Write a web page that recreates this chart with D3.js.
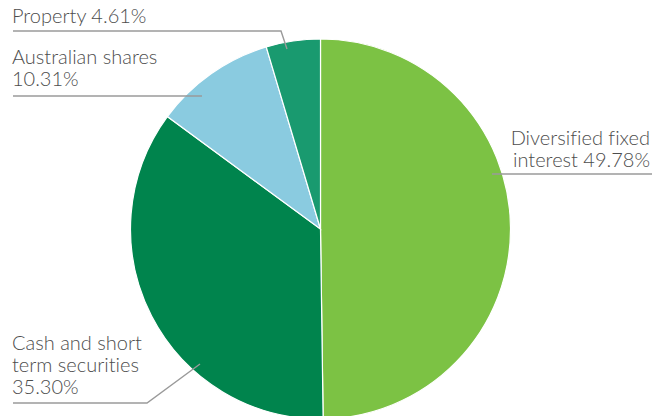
<!DOCTYPE html>
<html><head><meta charset="utf-8">
<script src="https://cdn.jsdelivr.net/npm/d3@7"></script>
<style>
html,body{margin:0;padding:0;background:#fff;}
text{font-family:"Lato","Open Sans",sans-serif;font-weight:300;fill:#4d4d4d;font-variant-ligatures:none;font-feature-settings:"liga" 0,"dlig" 0;}
</style></head>
<body><svg id="c" width="665" height="416"></svg>
<script>
const categories = ["Diversified fixed interest", "Cash and short term securities", "Australian shares", "Property"];
const values = [49.78, 35.30, 10.31, 4.61];
const colors = ["#7cc244", "#00844d", "#8acbe0", "#199a6f"];
const labelLines = [
  ["Diversified fixed", "interest 49.78%"],
  ["Cash and short", "term securities", "35.30%"],
  ["Australian shares", "10.31%"],
  ["Property 4.61%"]
];

const svg = d3.select("#c");
const cx = 320.5, cy = 229, r = 190;
const g = svg.append("g").attr("transform", `translate(${cx},${cy})`);
const pie = d3.pie().sort(null).value(d => d)(values);
const arc = d3.arc().innerRadius(0).outerRadius(r);
g.selectAll("path").data(pie).join("path")
  .attr("d", arc).attr("fill", (d, i) => colors[i])
  .attr("stroke", "#fff").attr("stroke-width", 1.2);

const leaders = [
  [[492,174],[652,174]],
  [[13,403],[147,403],[200,364]],
  [[13,96],[202,96]],
  [[13,31],[281,31],[287,49]]
];
const line = d3.line();
svg.selectAll("path.leader").data(leaders).join("path")
  .attr("class","leader").attr("d", line).attr("fill","none")
  .attr("stroke","#9a9a9a").attr("stroke-width",1.4);

const labelPos = [
  {x:650, y:145, anchor:"end"},
  {x:12, y:350, anchor:"start"},
  {x:12, y:64, anchor:"start"},
  {x:12, y:23, anchor:"start"}
];
const lh = 22;
labelLines.forEach((lines, i) => {
  const p = labelPos[i];
  const t = svg.append("text").attr("x", p.x).attr("y", p.y)
    .attr("text-anchor", p.anchor).attr("font-size", 20);
  lines.forEach((s, j) => {
    t.append("tspan").attr("x", p.x).attr("dy", j === 0 ? 0 : lh).text(s);
  });
});
</script></body></html>
